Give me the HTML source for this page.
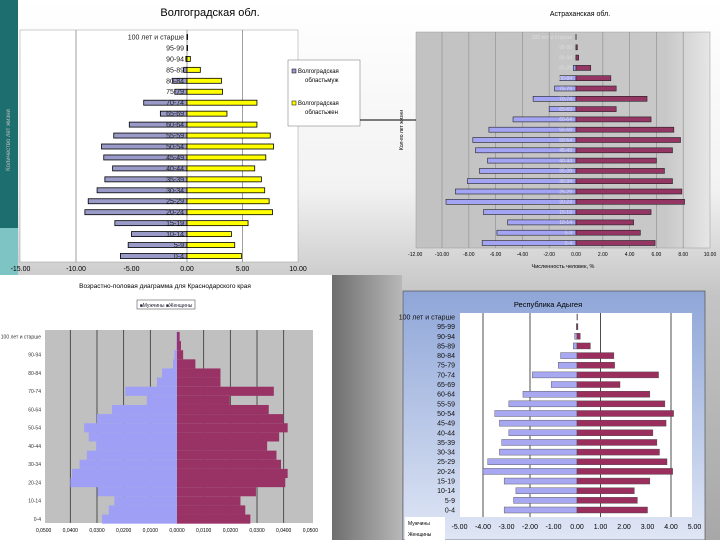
<!DOCTYPE html>
<html><head><meta charset="utf-8"><style>
html,body{margin:0;padding:0;width:720px;height:540px;overflow:hidden}
body{background:linear-gradient(180deg,#ffffff 0%,#f2f2f2 35%,#c4c4c4 55%,#a8a8a8 100%);font-family:"Liberation Sans",sans-serif}
svg text{font-family:"Liberation Sans",sans-serif}
</style></head><body>
<svg id="s" width="720" height="540" viewBox="0 0 720 540" xmlns="http://www.w3.org/2000/svg">
<defs>
<linearGradient id="g2" x1="0" y1="0" x2="1" y2="0"><stop offset="0" stop-color="#c2c2c2"/><stop offset="0.85" stop-color="#c8c8c8"/><stop offset="1" stop-color="#e6e6e6"/></linearGradient>
<linearGradient id="g4" x1="0" y1="0" x2="0" y2="1"><stop offset="0" stop-color="#8fa6d8"/><stop offset="1" stop-color="#dfe6f5"/></linearGradient>
<linearGradient id="gmid" x1="0" y1="0" x2="1" y2="0"><stop offset="0" stop-color="#6e6e6e"/><stop offset="1" stop-color="#b8b8b8"/></linearGradient>
</defs>
<rect x="0" y="0" width="18" height="228" fill="#1d6f6f"/>
<rect x="0" y="228" width="18" height="50" fill="#7fc4c4"/>
<rect x="332" y="275" width="70" height="265" fill="url(#gmid)"/>
<g id="c1">
<rect x="20" y="30" width="278" height="232" fill="#fff" stroke="#999" stroke-width="0.5"/>
<text x="210" y="16" font-size="11" text-anchor="middle" fill="#000">Волгоградская обл.</text>
<text transform="translate(10,140) rotate(-90)" font-size="6" text-anchor="middle" fill="#bbb">Количество лет жизни</text>
<rect x="288" y="60" width="72" height="66" fill="#fff" stroke="#888" stroke-width="0.6"/>
<rect x="292" y="69" width="4" height="4" fill="#9999cc" stroke="#000" stroke-width="0.5"/>
<text x="298" y="73" font-size="6">Волгоградская</text><text x="305" y="82" font-size="6">областьмуж</text>
<rect x="292" y="101" width="4" height="4" fill="#ffff00" stroke="#000" stroke-width="0.5"/>
<text x="298" y="105" font-size="6">Волгоградская</text><text x="305" y="114" font-size="6">областьжен</text>
</g>
<g id="c2">
<rect x="416" y="32" width="294" height="216" fill="url(#g2)" stroke="#999" stroke-width="0.5"/>
<text x="580" y="16" font-size="7" text-anchor="middle">Астраханская обл.</text>
<line x1="360" y1="120" x2="416" y2="120" stroke="#000" stroke-width="1"/>
<text transform="translate(403,130) rotate(-90)" font-size="5" text-anchor="middle">Кол-во лет жизни</text>
<text x="563" y="268" font-size="5.5" text-anchor="middle">Численность человек, %</text>
</g>
<g id="c3">
<rect x="0" y="275" width="332" height="265" fill="#fff"/>
<rect x="45" y="330" width="268" height="193" fill="#c0c0c0"/>
<text x="165" y="288" font-size="6.5" text-anchor="middle">Возрастно-половая диаграмма для Краснодарского края</text>
<rect x="137" y="300" width="58" height="9" fill="#fff" stroke="#555" stroke-width="0.6"/>
<text x="166" y="307" font-size="5" text-anchor="middle" fill="#223">■Мужчины ■Женщины</text>
</g>
<g id="c4">
<rect x="403" y="291" width="302" height="249" fill="url(#g4)" stroke="#444" stroke-width="0.6"/>
<rect x="460" y="313" width="232" height="204" fill="#fff"/>
<text x="548" y="307" font-size="7.5" text-anchor="middle">Республика Адыгея</text>
<rect x="405" y="517" width="40" height="23" fill="#fff"/>
<text x="408" y="525" font-size="5">Мужчины</text><text x="408" y="536" font-size="5">Женщины</text>
</g>
</svg>
<script>
const ages=["100 лет и старше","95-99","90-94","85-89","80-84","75-79","70-74","65-69","60-64","55-59","50-54","45-49","40-44","35-39","30-34","25-29","20-24","15-19","10-14","5-9","0-4"];
const volgMale=[0,0,0.1,0.3,1.3,1.1,3.9,2.4,5.2,6.6,7.7,7.5,6.7,7.4,8.1,8.9,9.2,6.5,5.0,5.3,6.0];
const volgFemale=[0.05,0.05,0.3,1.2,3.1,3.2,6.3,3.6,6.3,7.5,7.8,7.1,6.1,6.7,7.0,7.4,7.7,5.5,4.0,4.3,4.9];
const volgTicks=[-15,-10,-5,0,5,10];
const astrMale=[0,0,0,0.2,1.2,1.6,3.2,2.0,4.7,6.5,7.7,7.5,6.6,7.2,8.1,9.0,9.7,6.9,5.1,5.9,7.0];
const astrFemale=[0,0.1,0.2,1.1,2.6,3.0,5.3,3.0,5.6,7.3,7.8,7.2,6.0,6.6,7.2,7.9,8.1,5.6,4.3,4.8,5.9];
const astrTicks=[-12,-10,-8,-6,-4,-2,0,2,4,6,8,10];
const krasMale=[0.0003,0.0003,0.001,0.0015,0.0056,0.0075,0.0194,0.0113,0.0244,0.030,0.0348,0.0331,0.0303,0.0338,0.0365,0.0394,0.040,0.0298,0.0235,0.0256,0.0281];
const krasFemale=[0.001,0.0015,0.0023,0.0069,0.0163,0.0163,0.0363,0.0198,0.0344,0.0398,0.0415,0.0383,0.0338,0.0373,0.039,0.0415,0.0406,0.0296,0.0238,0.0256,0.0275];
const krasTicks=[-0.05,-0.04,-0.03,-0.02,-0.01,0,0.01,0.02,0.03,0.04,0.05];
const adygMale=[0,0.03,0.1,0.16,0.7,0.8,1.9,1.1,2.3,2.9,3.5,3.3,2.9,3.2,3.3,3.8,4.0,3.1,2.6,2.7,3.1];
const adygFemale=[0.02,0.04,0.14,0.57,1.57,1.6,3.47,1.83,3.1,3.74,4.11,3.79,3.23,3.4,3.51,3.83,4.07,3.1,2.44,2.57,3.0];
const adygTicks=[-5,-4,-3,-2,-1,0,1,2,3,4,5];
const NS="http://www.w3.org/2000/svg";
function mk(g,tag,a,txt){const e=document.createElementNS(NS,tag);for(const k in a)e.setAttribute(k,a[k]);if(txt!==undefined)e.textContent=txt;g.appendChild(e);return e;}
function pyramid(o){
  const g=document.getElementById(o.id);
  const xs=v=>o.x0+v*o.k;
  const ys=i=>o.yTop+i*o.step;
  o.grid.forEach(t=>{const l=mk(g,"line",{x1:xs(t),x2:xs(t),y1:o.py0,y2:o.py1,stroke:o.gridColor,"stroke-width":0.8});
    
    });
  o.ticks.forEach(t=>{const tx=mk(g,"text",{x:xs(t),y:o.tickY,"font-size":o.tickFs,"text-anchor":"middle"},o.fmt(t));
    
    });
  ages.forEach((a,i)=>{
    const m=o.male[i],f=o.female[i];const y=ys(i)-o.bh/2;
    const rm=mk(g,"rect",{x:xs(-m),y:y,width:Math.max(m*o.k,0.01),height:o.bh,fill:o.mc,stroke:o.stroke,"stroke-width":o.sw});
    
    
    const rf=mk(g,"rect",{x:xs(0),y:y,width:Math.max(f*o.k,0.01),height:o.bh,fill:o.fc,stroke:o.stroke,"stroke-width":o.sw});
    
    
    if(o.label(i)){const t=mk(g,"text",{x:o.labX,y:ys(i)+o.labFs*0.35,"font-size":o.labFs,"text-anchor":"end",fill:o.labColor},a);
      
      }
  });
}
pyramid({id:"c1",x0:187,k:11.1,yTop:37,step:10.95,bh:5,male:volgMale,female:volgFemale,mc:"#9a9ac8",fc:"#ffff00",stroke:"#000",sw:0.8,
  grid:[-10,0,5],gridColor:"#888",py0:30,py1:262,ticks:volgTicks,tickY:271,tickFs:7,fmt:t=>t.toFixed(2),
  label:()=>true,labX:184,labFs:7,labColor:"#222"});
pyramid({id:"c2",x0:576,k:13.4,yTop:37,step:10.3,bh:5,male:astrMale,female:astrFemale,mc:"#a4a4f4",fc:"#953564",stroke:"#222",sw:0.6,
  grid:[-10,-8,-6,-4,-2,2,4,6,8],gridColor:"#999",py0:32,py1:248,ticks:astrTicks,tickY:256,tickFs:5,fmt:t=>t.toFixed(2),
  label:()=>true,labX:572,labFs:5,labColor:"#ddd"});
pyramid({id:"c3",x0:177,k:2667,yTop:336.5,step:9.13,bh:9.13,male:krasMale,female:krasFemale,mc:"#9f9ff5",fc:"#993366",stroke:"none",sw:0,
  grid:[-0.04,-0.03,-0.02,-0.01,0.01,0.02,0.03,0.04],gridColor:"#333",py0:330,py1:523,ticks:krasTicks,tickY:532,tickFs:5,fmt:t=>Math.abs(t).toFixed(4).replace('.',','),
  label:i=>i%2===0,labX:41,labFs:5,labColor:"#333"});
pyramid({id:"c4",x0:577,k:23.5,yTop:317,step:9.65,bh:6,male:adygMale,female:adygFemale,mc:"#a8a8f2",fc:"#9a2f5e",stroke:"#444",sw:0.4,
  grid:[-4,-2,1,4],gridColor:"#222",py0:313,py1:517,ticks:adygTicks,tickY:529,tickFs:7,fmt:t=>t.toFixed(2),
  label:()=>true,labX:455,labFs:7,labColor:"#111"});
</script>
</body></html>
